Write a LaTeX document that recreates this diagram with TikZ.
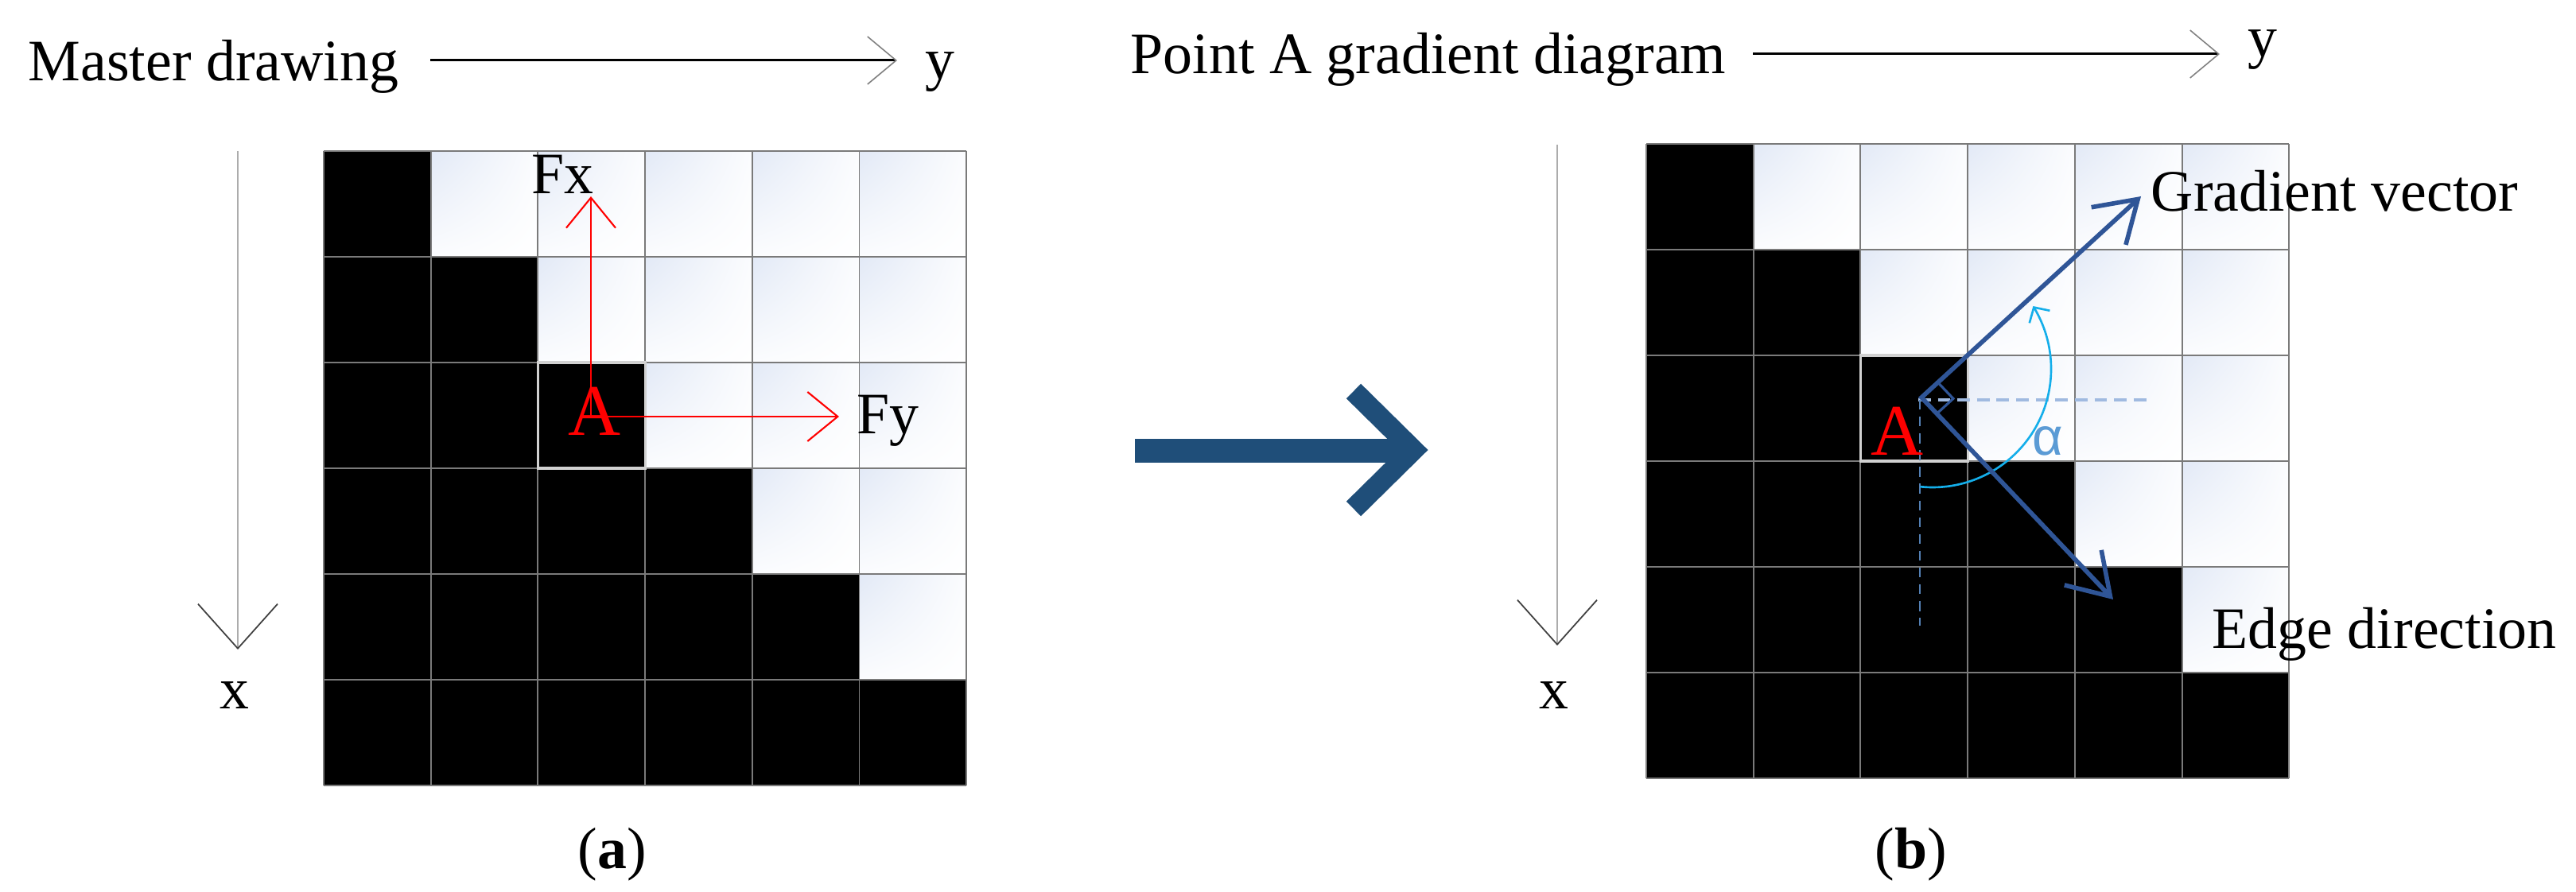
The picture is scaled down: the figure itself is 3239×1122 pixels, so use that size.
\documentclass[tikz,border=0pt]{standalone}
\usepackage{fontspec}
\setmainfont{Liberation Serif}
\newfontfamily\alphafont{Liberation Sans}
\usetikzlibrary{arrows.meta,calc,shadings}
\definecolor{gridc}{HTML}{7A7A7A}
\definecolor{cellc}{RGB}{226,233,246}
\definecolor{cellm}{RGB}{251,252,254}
\definecolor{vecblue}{RGB}{47,85,151}
\definecolor{bigc}{HTML}{1F4E79}
\definecolor{arcc}{RGB}{20,174,234}
\definecolor{alphac}{RGB}{91,155,213}
\definecolor{hdash}{RGB}{160,186,224}
\definecolor{vdash}{RGB}{84,128,180}
\tikzset{
  lbl/.style={font=\fontsize{21}{25}\selectfont, inner sep=0pt, anchor=base west},
  lblc/.style={font=\fontsize{21}{25}\selectfont, inner sep=0pt, anchor=base},
  redA/.style={font=\fontsize{26}{30}\selectfont, text=red, inner sep=0pt, anchor=base},
  titlearrow/.style={line width=0.85pt, -{Straight Barb[length=0.36cm,width=0.6cm,line width=0.45pt,color=gray]}},
  axisarrow/.style={gray!65, line width=0.6pt, -{Straight Barb[length=0.56cm,width=1.0cm,line width=0.5pt,color=black!75]}},
  redarrow/.style={red, line width=0.6pt, -{Straight Barb[length=0.38cm,width=0.62cm]}},
  bluevec/.style={vecblue, line width=1.6pt, line join=miter, {Straight Barb[length=0.5cm,width=0.64cm]}-{Straight Barb[length=0.5cm,width=0.64cm]}},
  gridline/.style={gridc, line width=0.55pt},
  acell/.style={draw=black!18, line width=0.9pt},
  wcell/.style={upper left=cellc, upper right=cellm, lower left=cellm, lower right=white},
}
\newcommand\pixgrid[2]{%
  \foreach \r in {0,...,5}{%
    \foreach \c in {0,...,5}{%
      \pgfmathsetmacro\xa{#1+\c*134.7}%
      \pgfmathsetmacro\ya{#2+\r*133}%
      \pgfmathsetmacro\xb{\xa+134.7}%
      \pgfmathsetmacro\yb{\ya+133}%
      \ifnum\c>\r
        \shade[wcell] (\xa,\ya) rectangle (\xb,\yb);
      \else
        \fill[black] (\xa,\ya) rectangle (\xb,\yb);
      \fi
    }%
  }%
  \foreach \i in {0,...,6}{%
    \pgfmathsetmacro\xx{#1+\i*134.7}%
    \pgfmathsetmacro\yy{#2+\i*133}%
    \draw[gridline] (\xx,#2) -- (\xx,#2+798);
    \draw[gridline] (#1,\yy) -- (#1+808.2,\yy);
  }%
}
\begin{document}
\begin{tikzpicture}[x=0.01cm,y=-0.01cm]
\useasboundingbox (0,0) rectangle (3239,1122);
\fill[white] (0,0) rectangle (3239,1122);

% ---------- panel (a) ----------
\pixgrid{407}{190}
\draw[acell] (676.4,456) rectangle (811.1,589);

\node[lbl] (mtitle) at (35,102) {Master drawing};
\coordinate (ly0) at (541,76);
\coordinate (ly1) at (1128,76);
\draw[titlearrow] (ly0) -- (ly1);
\node[lbl] (ylab1) at (1163,100) {y};

\coordinate (lx0) at (299,190);
\coordinate (lx1) at (299,817);
\draw[axisarrow] (lx0) -- (lx1);
\node[lblc] (xlab1) at (295,891) {x};

\coordinate (Ac) at (743,524);
\coordinate (Fxend) at (743,247);
\coordinate (Fyend) at (1055,524);
\draw[redarrow] (Ac) -- (Fxend);
\draw[redarrow] (Ac) -- (Fyend);
\node[redA] (Aleft) at (748,548) {A};
\node[lbl] (Fx) at (668,244) {Fx};
\node[lbl] (Fy) at (1077,546) {Fy};

\node[lblc] (capa) at (770,1092) {(\textbf{a})};

% ---------- big arrow ----------
\coordinate (bigA) at (1702,492);
\coordinate (bigT) at (1777,566);
\coordinate (bigB) at (1702,640);
\fill[bigc] (1427,552) rectangle (1762,582);
\draw[bigc, line width=7.4pt, line join=miter] (bigA) -- (bigT) -- (bigB);

% ---------- panel (b) ----------
\pixgrid{2070}{181}
\draw[acell] (2339.4,447) rectangle (2474.1,580);

\node[lbl] (ptitle) at (1421,93) {Point A gradient diagram};
\coordinate (ry0) at (2204,68);
\coordinate (ry1) at (2791,68);
\draw[titlearrow] (ry0) -- (ry1);
\node[lbl] (ylab2) at (2826,72) {y};

\coordinate (rx0) at (1958,182);
\coordinate (rx1) at (1958,812);
\draw[axisarrow] (rx0) -- (rx1);
\node[lblc] (xlab2) at (1954,891) {x};

\coordinate (V) at (2416,500);
\coordinate (hd0) at (2412,503);
\coordinate (hd1) at (2703,503);
\coordinate (vd0) at (2414,503);
\coordinate (vd1) at (2414,787);
\draw[hdash, line width=1.1pt, dash pattern=on 4.5pt off 2.5pt] (hd0) -- (hd1);
\draw[vdash, line width=0.8pt, dash pattern=on 3.5pt off 2.5pt] (vd0) -- (vd1);

\draw[arcc, line width=0.75pt, -{Straight Barb[length=0.14cm,width=0.3cm]}]
  plot[domain=96:-32, samples=60, smooth] ({2430+149*cos(\x)},{464+149*sin(\x)});

\coordinate (Gtip) at (2692,247);
\coordinate (Etip) at (2657,754);
\draw[bluevec] (Gtip) -- (V) -- (Etip);
% right-angle marker
\coordinate (m1) at ($(V)!0.28cm!(Gtip)$);
\coordinate (m3) at ($(V)!0.28cm!(Etip)$);
\coordinate (m2) at ($(m1)+(m3)-(V)$);
\draw[vecblue, line width=0.9pt] (m1) -- (m2) -- (m3);

\node[redA] (Aright) at (2385,573) {A};
\node[inner sep=0pt, anchor=base, text=alphac, font=\alphafont\fontsize{19}{23}\selectfont] (alph) at (2575,573) {α};
\node[lbl] (gvec) at (2704,266) {Gradient vector};
\node[lbl] (edir) at (2781,815) {Edge direction};

\node[lblc] (capb) at (2403,1092) {(\textbf{b})};
\end{tikzpicture}
\end{document}
